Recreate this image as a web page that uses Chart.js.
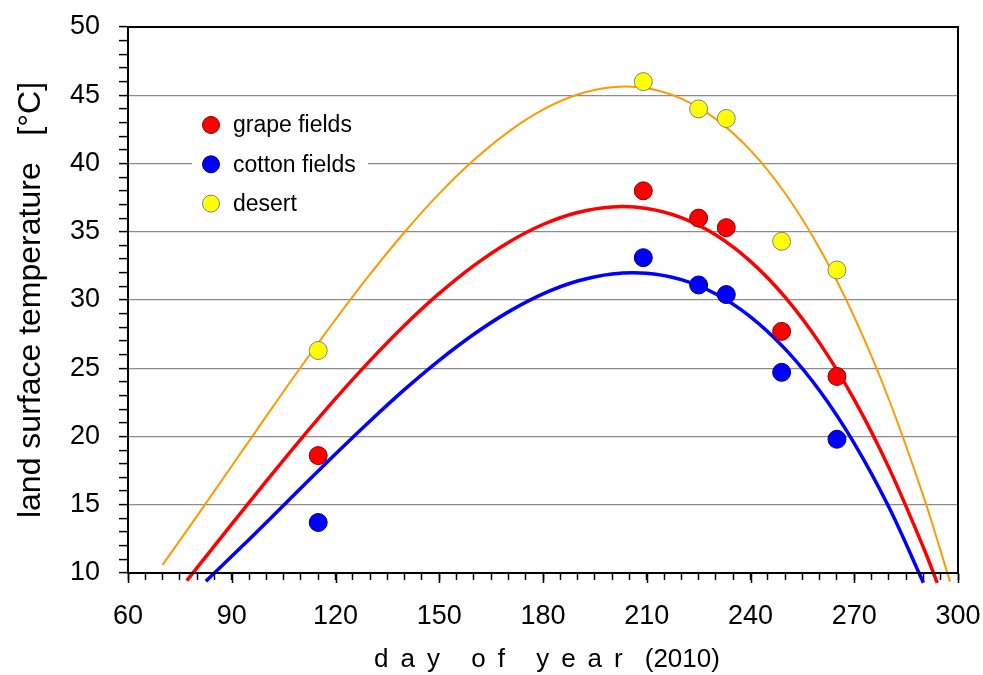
<!DOCTYPE html>
<html lang="en">
<head>
  <meta charset="UTF-8">
  <title>Land surface temperature by day of year</title>
  <script src="https://cdn.jsdelivr.net/npm/chart.js"></script>
  <style>
    html, body { margin: 0; padding: 0; background: #fff; }
    #wrap { width: 983px; height: 675px; position: relative; }
  </style>
</head>
<body>
  <div id="wrap"><canvas id="lstChart"></canvas></div>

  <script>
    // measured points (day of year 2010)
    const days = [115, 209, 225, 233, 249, 265];
    const grape = [18.6, 38.0, 36.0, 35.3, 27.7, 24.4];
    const cotton = [13.7, 33.1, 31.1, 30.4, 24.7, 19.8];
    const desert = [26.3, 46.0, 44.0, 43.3, 34.3, 32.2];

    // fitted curves
    const grapeFitDays = [77, 80, 90, 100, 110, 120, 130, 140, 150, 160, 170, 180, 190, 200, 210, 220, 230, 240, 250, 260, 270, 280, 290, 294];
    const grapeFitVals = [9.44, 10.40, 13.58, 16.73, 19.81, 22.77, 25.56, 28.15, 30.48, 32.52, 34.22, 35.53, 36.41, 36.82, 36.71, 36.04, 34.76, 32.83, 30.21, 26.84, 22.70, 17.72, 11.87, 9.28];
    const cottonFitDays = [82.5, 90, 100, 110, 120, 130, 140, 150, 160, 170, 180, 190, 200, 210, 220, 230, 240, 250, 260, 270, 280, 290];
    const cottonFitVals = [9.40, 11.22, 13.70, 16.22, 18.72, 21.14, 23.45, 25.58, 27.49, 29.13, 30.45, 31.39, 31.91, 31.96, 31.49, 30.44, 28.77, 26.42, 23.35, 19.50, 14.83, 9.29];
    const desertFitDays = [70, 80, 90, 100, 110, 120, 130, 140, 150, 160, 170, 180, 190, 200, 210, 220, 230, 240, 250, 260, 270, 280, 290, 297.7];
    const desertFitVals = [10.60, 14.19, 17.84, 21.49, 25.09, 28.57, 31.89, 34.98, 37.79, 40.25, 42.32, 43.94, 45.05, 45.59, 45.51, 44.75, 43.25, 40.96, 37.82, 33.77, 28.76, 22.73, 15.62, 9.37];

    const seriesNames = ['grape fields', 'cotton fields', 'desert'];
    const majorDays = [60, 90, 120, 150, 180, 210, 240, 270, 300];
    const xTitle = 'day of year';
    const xTitleYear = '(2010)';

    const pts = (xs, ys) => xs.map((x, i) => ({ x: x, y: ys[i] }));

    function scatterSet(label, data, fill, border) {
      return {
        label: label, data: data, order: 0,
        backgroundColor: fill, borderColor: border,
        pointRadius: 9, pointHoverRadius: 9, borderWidth: 1, showLine: false
      };
    }
    function fitSet(data, color, width) {
      return {
        label: '', data: data, order: 1, showLine: true,
        borderColor: color, borderWidth: width, pointRadius: 0, pointHoverRadius: 0,
        tension: 0.35, clip: false, fill: false
      };
    }

    // legend drawn inside the plot, over a white patch
    const insideLegend = {
      id: 'insideLegend',
      afterDraw(chart) {
        const ctx = chart.ctx;
        ctx.save();
        ctx.fillStyle = '#fff';
        ctx.fillRect(192, 104, 176, 120);
        ctx.font = '23px Arial, "Liberation Sans", sans-serif';
        ctx.textBaseline = 'middle';
        for (let i = 0; i < 3; i++) {
          const ds = chart.data.datasets[i];
          const cy = 125 + i * 39.3;
          ctx.beginPath();
          ctx.arc(211, cy, 8.5, 0, Math.PI * 2);
          ctx.fillStyle = ds.backgroundColor;
          ctx.fill();
          ctx.lineWidth = 1;
          ctx.strokeStyle = ds.borderColor;
          ctx.stroke();
          ctx.fillStyle = '#000';
          ctx.fillText(ds.label, 233, cy + 1);
        }
        ctx.restore();
      }
    };

    // box round the plot, longer ticks every 30 days, spaced x title
    const frame = {
      id: 'frame',
      afterDraw(chart) {
        const { ctx, chartArea: a, scales: { x } } = chart;
        ctx.save();
        ctx.strokeStyle = '#000';
        ctx.lineWidth = 2;
        ctx.strokeRect(a.left, a.top, a.right - a.left, a.bottom - a.top);
        ctx.lineWidth = 1.5;
        ctx.beginPath();
        for (const d of majorDays) {
          const px = Math.round(x.getPixelForValue(d)) + 0.5;
          ctx.moveTo(px, a.bottom);
          ctx.lineTo(px, a.bottom + 10);
        }
        ctx.stroke();

        ctx.font = '26px Arial, "Liberation Sans", sans-serif';
        ctx.fillStyle = '#000';
        ctx.textBaseline = 'middle';
        const spacing = 12;
        let w1 = 0;
        for (const ch of xTitle) w1 += ctx.measureText(ch).width + spacing;
        const gap = 10;
        const w2 = ctx.measureText(xTitleYear).width;
        let cx = (a.left + a.right) / 2 + 4 - (w1 + gap + w2) / 2;
        for (const ch of xTitle) {
          ctx.fillText(ch, cx, 660);
          cx += ctx.measureText(ch).width + spacing;
        }
        ctx.fillText(xTitleYear, cx + gap, 660);
        ctx.restore();
      }
    };

    const chart = new Chart(document.getElementById('lstChart').getContext('2d'), {
      type: 'scatter',
      data: {
        datasets: [
          scatterSet(seriesNames[0], pts(days, grape), '#ff0000', '#8b0000'),
          scatterSet(seriesNames[1], pts(days, cotton), '#0000ff', '#000080'),
          scatterSet(seriesNames[2], pts(days, desert), '#ffff00', '#808080'),
          fitSet(pts(grapeFitDays, grapeFitVals), '#ff0000', 3.5),
          fitSet(pts(cottonFitDays, cottonFitVals), '#0000ff', 3.5),
          fitSet(pts(desertFitDays, desertFitVals), '#ff9900', 2)
        ]
      },
      options: {
        responsive: true,
        maintainAspectRatio: false,
        animation: false,
        devicePixelRatio: 1,
        layout: { padding: { top: 27, right: 25, left: 0, bottom: 0 } },
        plugins: {
          legend: { display: false },
          tooltip: { enabled: false }
        },
        scales: {
          x: {
            type: 'linear', position: 'bottom', min: 60, max: 300,
            afterFit: (s) => { s.height = 102; s.paddingLeft = 0; s.paddingRight = 0; },
            border: { display: true, color: '#000', width: 2 },
            grid: { drawOnChartArea: false, drawTicks: true, tickLength: 7, tickColor: '#000', tickWidth: 1.5 },
            ticks: {
              stepSize: 5, autoSkip: false, maxRotation: 0, minRotation: 0, padding: 20,
              color: '#000', font: { family: 'Arial, "Liberation Sans", sans-serif', size: 27 },
              callback: (v) => (v % 30 === 0 ? v : '')
            }
          },
          y: {
            type: 'linear', min: 10, max: 50,
            afterFit: (s) => { s.width = 128; s.paddingTop = 0; s.paddingBottom = 0; },
            border: { display: true, color: '#000', width: 2 },
            grid: {
              drawTicks: true, tickLength: 9, tickColor: '#000', tickWidth: 1.5, lineWidth: 1.2,
              color: (c) => {
                const v = c.tick ? c.tick.value : 0;
                return (v % 5 === 0 && v > 10 && v < 50) ? '#8c8c8c' : 'rgba(0,0,0,0)';
              }
            },
            ticks: {
              stepSize: 1, autoSkip: false, maxTicksLimit: 100, padding: 19,
              color: '#000', font: { family: 'Arial, "Liberation Sans", sans-serif', size: 27 },
              callback: (v) => (v % 5 === 0 ? v : '')
            },
            title: {
              display: true, text: 'land surface temperature   [°C]', color: '#000',
              font: { family: 'Arial, "Liberation Sans", sans-serif', size: 32 },
              padding: { top: 12, bottom: 0 }
            }
          }
        }
      },
      plugins: [insideLegend, frame]
    });
  </script>
</body>
</html>
